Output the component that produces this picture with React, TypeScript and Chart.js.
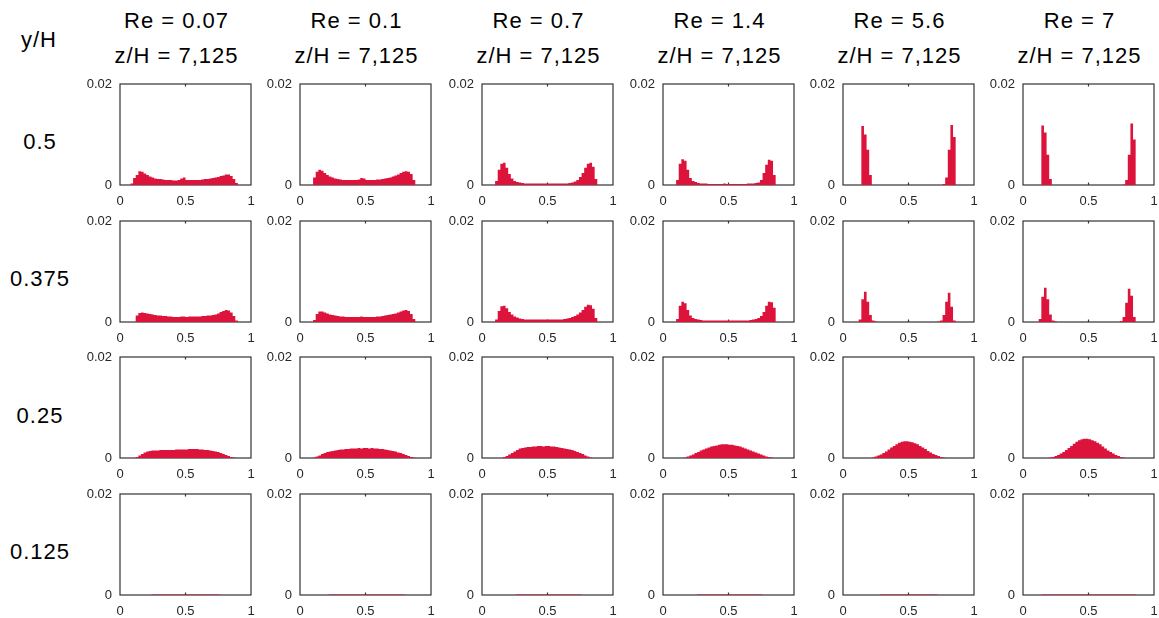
import React, { useEffect, useRef } from 'react';
import { Chart, registerables } from 'chart.js';

Chart.register(...registerables);

// ---------- DATA (histogram bin heights in units of 1e-4, 50 bins over 0..1) ----------
const reLabels = ['0.07', '0.1', '0.7', '1.4', '5.6', '7'];
const zLabel = '7,125';
const yhLabels = ['0.5', '0.375', '0.25', '0.125'];
const xTickValues = [0, 0.5, 1];
const yTickValues = [0, 0.02];
const UNIT = 1e-4;
const NBINS = 50;

// Row 1: y/H = 0.5
const re007_y0500 = [
  0, 0, 0, 0, 0, 3, 14, 20, 27, 26,
  23, 20, 17, 15, 13, 12, 12, 11, 10, 10,
  10, 9, 9, 10, 13, 15, 10, 10, 10, 10,
  10, 10, 11, 12, 12, 13, 14, 15, 16, 18,
  19, 21, 21, 18, 12, 4, 0, 0, 0, 0];
const re01_y0500 = [
  0, 0, 0, 0, 0, 0, 15, 26, 30, 28,
  24, 20, 17, 15, 13, 12, 11, 10, 10, 10,
  10, 10, 10, 11, 14, 13, 10, 10, 10, 10,
  11, 11, 12, 13, 14, 15, 17, 19, 21, 24,
  26, 27, 26, 22, 10, 0, 0, 0, 0, 0];
const re07_y0500 = [
  0, 0, 0, 0, 0, 0, 8, 30, 42, 44,
  34, 22, 13, 8, 6, 5, 4, 3, 3, 3,
  3, 3, 3, 3, 3, 3, 3, 3, 3, 3,
  3, 3, 3, 3, 4, 5, 7, 10, 16, 24,
  34, 42, 44, 36, 12, 0, 0, 0, 0, 0];
const re14_y0500 = [
  0, 0, 0, 0, 0, 0, 10, 42, 51, 48,
  30, 14, 8, 6, 4, 3, 3, 3, 2, 2,
  2, 2, 2, 2, 3, 2, 2, 2, 2, 2,
  2, 2, 2, 3, 3, 3, 4, 5, 10, 24,
  40, 50, 48, 20, 0, 0, 0, 0, 0, 0];
const re56_y0500 = [
  0, 0, 0, 0, 0, 0, 0, 0, 117, 100,
  70, 20, 0, 0, 0, 0, 0, 0, 0, 0,
  0, 0, 0, 0, 0, 0, 0, 0, 0, 0,
  0, 0, 0, 0, 0, 0, 0, 0, 0, 2,
  15, 70, 119, 95, 0, 0, 0, 0, 0, 0];
const re7_y0500 = [
  0, 0, 0, 0, 0, 0, 0, 0, 118, 104,
  60, 12, 0, 0, 0, 0, 0, 0, 0, 0,
  0, 0, 0, 0, 0, 0, 0, 0, 0, 0,
  0, 0, 0, 0, 0, 0, 0, 0, 0, 1,
  10, 60, 122, 90, 0, 0, 0, 0, 0, 0];

// Row 2: y/H = 0.375
const re007_y0375 = [
  0, 0, 0, 0, 0, 0, 0, 13, 18, 19,
  18, 17, 16, 15, 14, 13, 13, 12, 12, 11,
  11, 10, 10, 10, 11, 11, 10, 11, 11, 11,
  11, 11, 12, 12, 13, 13, 14, 15, 17, 20,
  22, 24, 23, 19, 12, 3, 0, 0, 0, 0];
const re01_y0375 = [
  0, 0, 0, 0, 0, 0, 4, 16, 21, 21,
  19, 17, 15, 14, 13, 12, 11, 11, 10, 10,
  10, 10, 10, 10, 11, 10, 10, 10, 10, 10,
  11, 11, 12, 13, 14, 15, 16, 17, 19, 21,
  23, 24, 22, 16, 6, 0, 0, 0, 0, 0];
const re07_y0375 = [
  0, 0, 0, 0, 0, 0, 5, 22, 31, 32,
  27, 20, 15, 11, 9, 7, 6, 5, 5, 5,
  5, 5, 5, 5, 5, 5, 5, 5, 5, 5,
  5, 5, 6, 7, 8, 10, 12, 15, 19, 24,
  30, 34, 33, 26, 8, 0, 0, 0, 0, 0];
const re14_y0375 = [
  0, 0, 0, 0, 0, 0, 6, 32, 40, 37,
  24, 13, 8, 6, 5, 4, 3, 3, 3, 3,
  3, 3, 3, 3, 3, 3, 3, 3, 3, 3,
  3, 3, 3, 3, 4, 5, 6, 8, 12, 20,
  32, 40, 39, 28, 0, 0, 0, 0, 0, 0];
const re56_y0375 = [
  0, 0, 0, 0, 0, 0, 0, 5, 45, 60,
  40, 14, 3, 1, 0, 0, 0, 0, 0, 0,
  0, 0, 0, 0, 0, 0, 0, 0, 0, 0,
  0, 0, 0, 0, 0, 0, 0, 1, 3, 14,
  40, 58, 30, 3, 0, 0, 0, 0, 0, 0];
const re7_y0375 = [
  0, 0, 0, 0, 0, 0, 0, 6, 50, 68,
  45, 15, 3, 1, 0, 0, 0, 0, 0, 0,
  0, 0, 0, 0, 0, 0, 0, 0, 0, 0,
  0, 0, 0, 0, 0, 0, 0, 0, 2, 10,
  38, 66, 52, 10, 0, 0, 0, 0, 0, 0];

// Row 3: y/H = 0.25
const re007_y0250 = [
  0, 0, 0, 0, 0, 0, 0, 2, 5, 8,
  11, 13, 14, 15, 15, 15, 16, 16, 16, 16,
  16, 16, 17, 17, 17, 17, 17, 18, 18, 18,
  18, 17, 17, 16, 16, 15, 14, 13, 12, 10,
  8, 6, 4, 2, 1, 0, 0, 0, 0, 0];
const re01_y0250 = [
  0, 0, 0, 0, 0, 0, 1, 3, 5, 8,
  10, 12, 13, 14, 15, 16, 17, 17, 18, 18,
  19, 19, 19, 20, 19, 20, 20, 19, 20, 19,
  19, 18, 18, 17, 16, 15, 14, 13, 11, 10,
  8, 6, 4, 2, 1, 0, 0, 0, 0, 0];
const re07_y0250 = [
  0, 0, 0, 0, 0, 0, 0, 0, 0, 2,
  4, 7, 10, 13, 16, 19, 20, 21, 22, 22,
  23, 23, 24, 24, 23, 24, 24, 23, 23, 22,
  21, 20, 19, 18, 17, 16, 14, 12, 10, 8,
  5, 3, 1, 0, 0, 0, 0, 0, 0, 0];
const re14_y0250 = [
  0, 0, 0, 0, 0, 0, 0, 0, 0, 1,
  3, 5, 7, 10, 12, 15, 17, 19, 21, 23,
  24, 25, 26, 27, 27, 27, 26, 26, 25, 24,
  23, 21, 19, 17, 15, 13, 11, 9, 7, 5,
  3, 2, 1, 0, 0, 0, 0, 0, 0, 0];
const re56_y0250 = [
  0, 0, 0, 0, 0, 0, 0, 0, 0, 0,
  0, 0, 1, 3, 5, 7, 10, 13, 17, 21,
  24, 27, 30, 32, 33, 33, 32, 31, 29, 27,
  24, 21, 18, 14, 11, 8, 6, 4, 2, 1,
  0, 0, 0, 0, 0, 0, 0, 0, 0, 0];
const re7_y0250 = [
  0, 0, 0, 0, 0, 0, 0, 0, 0, 0,
  0, 1, 2, 4, 6, 9, 12, 16, 20, 24,
  28, 32, 35, 37, 38, 38, 37, 35, 33, 30,
  27, 23, 19, 15, 12, 9, 6, 4, 2, 1,
  0, 0, 0, 0, 0, 0, 0, 0, 0, 0];

// Row 4: y/H = 0.125
const re007_y0125 = [
  0, 0, 0, 0, 0, 0, 0, 0, 0, 0,
  0, 0, 0, 1, 1, 1, 1, 1, 1, 1,
  1, 1, 1, 1, 1, 1, 1, 1, 1, 1,
  1, 1, 1, 1, 1, 1, 1, 1, 1, 0,
  0, 0, 0, 0, 0, 0, 0, 0, 0, 0];
const re01_y0125 = [
  0, 0, 0, 0, 0, 0, 0, 0, 0, 0,
  0, 0, 1, 1, 1, 1, 1, 1, 1, 1,
  1, 1, 1, 1, 1, 1, 1, 1, 1, 1,
  1, 1, 1, 1, 1, 1, 1, 1, 1, 1,
  1, 0, 0, 0, 0, 0, 0, 0, 0, 0];
const re07_y0125 = [
  0, 0, 0, 0, 0, 0, 0, 0, 0, 0,
  0, 0, 0, 0, 1, 1, 1, 1, 1, 1,
  1, 1, 1, 1, 1, 1, 1, 1, 1, 1,
  1, 1, 1, 1, 1, 1, 1, 1, 1, 0,
  0, 0, 0, 0, 0, 0, 0, 0, 0, 0];
const re14_y0125 = [
  0, 0, 0, 0, 0, 0, 0, 0, 0, 0,
  0, 0, 0, 0, 1, 1, 1, 1, 1, 1,
  1, 1, 1, 1, 1, 1, 1, 1, 1, 1,
  1, 1, 1, 1, 1, 1, 1, 1, 1, 0,
  0, 0, 0, 0, 0, 0, 0, 0, 0, 0];
const re56_y0125 = [
  0, 0, 0, 0, 0, 0, 0, 0, 0, 0,
  0, 0, 0, 0, 0, 1, 1, 1, 1, 1,
  1, 1, 1, 1, 1, 1, 1, 1, 1, 1,
  1, 1, 1, 1, 1, 1, 1, 0, 0, 0,
  0, 0, 0, 0, 0, 0, 0, 0, 0, 0];
const re7_y0125 = [
  0, 0, 0, 0, 0, 0, 0, 0, 1, 1,
  1, 1, 1, 1, 1, 1, 1, 1, 1, 1,
  1, 1, 1, 1, 1, 1, 1, 1, 1, 1,
  1, 1, 1, 1, 1, 1, 1, 1, 1, 1,
  1, 1, 1, 1, 0, 0, 0, 0, 0, 0];

const grid: number[][][] = [
  [re007_y0500, re01_y0500, re07_y0500, re14_y0500, re56_y0500, re7_y0500],
  [re007_y0375, re01_y0375, re07_y0375, re14_y0375, re56_y0375, re7_y0375],
  [re007_y0250, re01_y0250, re07_y0250, re14_y0250, re56_y0250, re7_y0250],
  [re007_y0125, re01_y0125, re07_y0125, re14_y0125, re56_y0125, re7_y0125],
];

// ---------- LAYOUT / STYLE ----------
const colLefts = [120, 300, 482, 663, 843, 1023];
const rowTops = [84, 221, 357, 494];
const BOX_W = 131;
const BOX_H = 101;
const AX_W = 40;   // room left of box for y tick labels
const PAD_T = 10;
const PAD_R = 10;
const AX_H = 24;   // room below box for x tick labels
const FILL = '#DC143C';
const FRAME = '#333333';
const TICK_COLOR = '#262626';
const FONT = '"Liberation Sans", Arial, Helvetica, sans-serif';

const framePlugin = {
  id: 'matlabFrame',
  beforeDatasetsDraw(chart: any) {
    const { ctx, chartArea: a, scales } = chart;
    ctx.save();
    ctx.strokeStyle = FRAME;
    ctx.lineWidth = 1.2;
    ctx.strokeRect(a.left, a.top, a.right - a.left, a.bottom - a.top);
    const xm = scales.x.getPixelForValue(0.5);
    ctx.beginPath();
    ctx.moveTo(xm, a.top);
    ctx.lineTo(xm, a.top + 2.5);
    ctx.moveTo(xm, a.bottom);
    ctx.lineTo(xm, a.bottom - 2.5);
    ctx.stroke();
    ctx.restore();
  },
};

function zeroPadding(s: any) {
  s.paddingTop = 0;
  s.paddingBottom = 0;
  s.paddingLeft = 0;
  s.paddingRight = 0;
}

function Panel({ values, left, top }: { values: number[]; left: number; top: number }) {
  const ref = useRef<HTMLCanvasElement>(null);
  const W = AX_W + BOX_W + PAD_R;
  const H = PAD_T + BOX_H + AX_H;
  useEffect(() => {
    if (!ref.current) return;
    const pts = [];
    for (let i = 0; i <= NBINS; i++) {
      const v = values[Math.min(i, NBINS - 1)];
      pts.push({ x: i / NBINS, y: v * UNIT });
    }
    const tickFont = { family: FONT, size: 13 };
    const chart = new Chart(ref.current, {
      type: 'line',
      data: {
        datasets: [
          {
            data: pts,
            stepped: 'after',
            fill: 'origin',
            backgroundColor: FILL,
            borderColor: 'rgba(0,0,0,0)',
            borderWidth: 0,
            pointRadius: 0,
            tension: 0,
          } as any,
        ],
      },
      options: {
        animation: false,
        responsive: false,
        devicePixelRatio: 1,
        events: [],
        layout: { padding: { top: PAD_T, right: PAD_R, left: 0, bottom: 0 } },
        plugins: { legend: { display: false }, tooltip: { enabled: false } },
        scales: {
          x: {
            type: 'linear',
            min: 0,
            max: 1,
            grid: { display: false, drawTicks: false },
            border: { display: false },
            afterBuildTicks: (s: any) => {
              s.ticks = xTickValues.map((v) => ({ value: v }));
            },
            afterFit: (s: any) => {
              s.height = AX_H;
              zeroPadding(s);
            },
            ticks: {
              padding: 9,
              autoSkip: false,
              maxRotation: 0,
              font: tickFont,
              color: TICK_COLOR,
              callback: (v: any) => String(v),
            },
          },
          y: {
            type: 'linear',
            min: 0,
            max: 0.02,
            grid: { display: false, drawTicks: false },
            border: { display: false },
            afterBuildTicks: (s: any) => {
              s.ticks = yTickValues.map((v) => ({ value: v }));
            },
            afterFit: (s: any) => {
              s.width = AX_W;
              zeroPadding(s);
            },
            ticks: {
              padding: 8,
              autoSkip: false,
              font: tickFont,
              color: TICK_COLOR,
              callback: (v: any) => String(v),
            },
          },
        },
      } as any,
      plugins: [framePlugin],
    });
    return () => chart.destroy();
  }, [values]);
  return (
    <canvas
      ref={ref}
      width={W}
      height={H}
      style={{ position: 'absolute', left: left - AX_W, top: top - PAD_T, width: W, height: H }}
    />
  );
}

const BIG = 22;
const BASE_OFF = 18.6; // baseline offset inside a 22px line box

function Label({ text, cx, baseline }: { text: string; cx: number; baseline: number }) {
  return (
    <div
      style={{
        position: 'absolute',
        left: cx,
        top: baseline - BASE_OFF,
        transform: 'translateX(-50%)',
        whiteSpace: 'nowrap',
        fontFamily: FONT,
        fontSize: BIG,
        lineHeight: `${BIG}px`,
        letterSpacing: '1px',
        color: '#000',
      }}
    >
      {text}
    </div>
  );
}

const titleBaselines = [29, 64];
const rowLabelBaselines = [150, 286.7, 423.3, 560];
const rowLabelX = 40;

export default function App() {
  return (
    <div
      style={{
        position: 'absolute',
        left: 0,
        top: 0,
        width: 1159,
        height: 618,
        background: '#fff',
        overflow: 'hidden',
      }}
    >
      <Label text="y/H" cx={39} baseline={47.3} />
      {reLabels.map((re, c) => (
        <React.Fragment key={'t' + c}>
          <Label text={`Re = ${re}`} cx={colLefts[c] + BOX_W / 2 - 9} baseline={titleBaselines[0]} />
          <Label text={`z/H = ${zLabel}`} cx={colLefts[c] + BOX_W / 2 - 9} baseline={titleBaselines[1]} />
        </React.Fragment>
      ))}
      {yhLabels.map((t, r) => (
        <Label key={'r' + r} text={t} cx={rowLabelX} baseline={rowLabelBaselines[r]} />
      ))}
      {grid.map((row, r) =>
        row.map((vals, c) => (
          <Panel key={r + '-' + c} values={vals} left={colLefts[c]} top={rowTops[r]} />
        ))
      )}
    </div>
  );
}
